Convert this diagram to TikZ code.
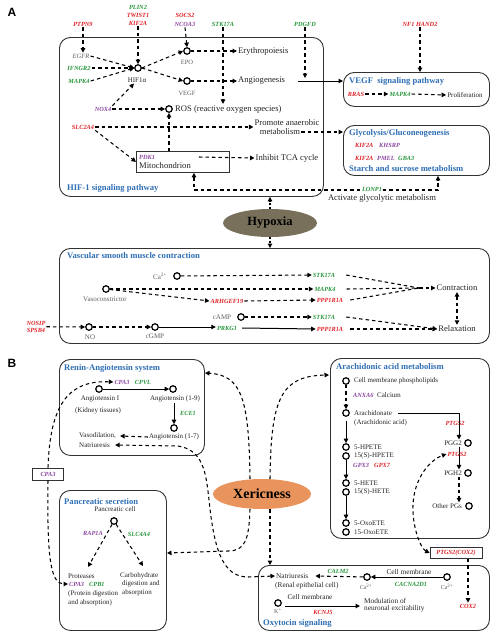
\documentclass[tikz,border=0pt]{standalone}
\usepackage{fontspec}
\setmainfont{Liberation Serif}
\setsansfont{Liberation Sans}
\usetikzlibrary{arrows.meta,shapes.geometric,calc}
\definecolor{tblue}{RGB}{46,110,180}
\definecolor{gred}{RGB}{222,35,40}
\definecolor{ggreen}{RGB}{40,150,60}
\definecolor{gpurple}{RGB}{140,70,160}
\definecolor{graytxt}{RGB}{95,95,95}
\definecolor{txtc}{RGB}{35,35,35}
\definecolor{boxc}{RGB}{50,50,50}
\definecolor{hypc}{RGB}{120,112,90}
\definecolor{xerc}{RGB}{233,148,92}
\newcommand\myfs[1]{\fontsize{#1}{#1}\selectfont}
\begin{document}
\begin{tikzpicture}[x=1pt,y=-1pt,
  every node/.style={inner sep=1pt, text=txtc},
  mtxt/.style={font=\myfs{8.6}},
  stxt/.style={font=\myfs{7}},
  otxt/.style={font=\myfs{7.3}},
  gtxt/.style={font=\myfs{6.3}\bfseries\itshape},
  rd/.style={gtxt,text=gred}, gn/.style={gtxt,text=ggreen}, pu/.style={gtxt,text=gpurple},
  ttl/.style={font=\myfs{8.6}\bfseries, text=tblue, anchor=west},
  circ/.style={circle, draw=black, line width=1.2pt, minimum size=6.5pt, inner sep=0pt},
  rbox/.style={draw=boxc, line width=0.9pt, rounded corners=11pt, anchor=north west, inner sep=0pt},
  sbox/.style={draw=boxc, line width=0.8pt, inner sep=0pt},
  dl/.style={line width=1.05pt, dash pattern=on 3.5pt off 3pt},
  da/.style={dl, -{Triangle[length=4.5pt,width=4.5pt]}},
  dd/.style={dl, {Triangle[length=4.5pt,width=4.5pt]}-{Triangle[length=4.5pt,width=4.5pt]}},
  sa/.style={line width=1pt, -{Triangle[length=4.5pt,width=4.5pt]}},
  dt/.style={line width=1.3pt, dash pattern=on 2pt off 1.5pt, -{Triangle[length=4.5pt,width=4.5pt]}},
]
\useasboundingbox (0,0) rectangle (500,643);

% ================= Panel A =================
\node[font=\sffamily\bfseries\myfs{12}, text=black] (labA) at (12,12) {A};
\node[rbox, minimum width=264pt, minimum height=159pt] (hifbox) at (59,37) {};
\node[rbox, minimum width=146pt, minimum height=34pt] (vegfbox) at (343,72) {};
\node[rbox, minimum width=146pt, minimum height=50pt] (glycbox) at (343,125) {};
\node[rbox, minimum width=430pt, minimum height=95pt] (vascbox) at (59,248) {};

\node[rd] (ptpn9) at (83,24) {PTPN9};
\node[gn] (plin2) at (138,7) {PLIN2};
\node[rd] (twist1) at (138,15) {TWIST1};
\node[rd] (kif2a) at (138,23) {KIF2A};
\node[rd] (socs2) at (185,15) {SOCS2};
\node[pu] (ncoa3) at (185,24) {NCOA3};
\node[gn] (stk17a) at (223,24) {STK17A};
\node[gn] (pdgfd) at (305,24) {PDGFD};
\node[rd] (nf1) at (420,24) {NF1 HAND2};

\node[font=\myfs{6.5}\itshape, text=graytxt] (egfr) at (81,56) {EGFR};
\node[gn] (ifngr2) at (79,68) {IFNGR2};
\node[gn] (mapk4a) at (79,81) {MAPK4};
\node[circ] (hif) at (138,68) {};
\node[stxt] (hiflbl) at (137,80) {HIF1α};
\node[circ] (epo) at (187,51) {};
\node[font=\myfs{6.5}, text=graytxt] (epolbl) at (187,62) {EPO};
\node[circ] (vegf) at (187,81) {};
\node[font=\myfs{6.5}, text=graytxt] (vegflbl) at (187,93) {VEGF};
\node[mtxt, anchor=west] (eryth) at (237,51) {Erythropoiesis};
\node[mtxt, anchor=west] (angio) at (237,81) {Angiogenesis};
\node[pu] (nox4) at (103,109) {NOX4};
\node[circ] (ros) at (169,109) {};
\node[mtxt, anchor=west] (roslbl) at (174,109) {ROS (reactive oxygen species)};
\node[rd] (slc2a4) at (83,127) {SLC2A4};
\node[mtxt] (promA) at (287,123) {Promote anaerobic};
\node[mtxt] (promB) at (280,132) {metabolism};
\node[sbox, anchor=north west, minimum width=93pt, minimum height=21pt] (mito) at (136,151) {};
\node[pu, anchor=west] (pdk1) at (138,157) {PDK1};
\node[mtxt, anchor=west] (mitolbl) at (138,166) {Mitochondrion};
\coordinate (mitoout) at (199,157);
\node[mtxt] (tca) at (287,158) {Inhibit TCA cycle};
\node[ttl] (hifttl) at (66,188) {HIF-1 signaling pathway};

\draw[da] (ptpn9.south) -- (ptpn9.south |- egfr.north);
\draw[da] (kif2a.south) -- (hif.north);
\draw[da] (ncoa3.south) -- (epo.north);
\draw[da] (egfr.east) -- (hif.west);
\draw[da] (ifngr2.east) -- (hif.west);
\draw[da] (mapk4a.east) -- (hif.west);
\draw[da] (hif.east) -- (epo.west);
\draw[da] (hif.east) -- (vegf.west);
\draw[da] (epo.east) -- (eryth.west);
\draw[da] (vegf.east) -- (angio.west);
\draw[da] (stk17a.south) -- (stk17a.south |- roslbl.north);
\draw[da] (nox4.east) -- (ros.west);
\draw[da] (nox4.north east) -- ([xshift=-3pt]hiflbl.south);
\draw[da] (slc2a4.east) -- (slc2a4.east -| promA.west);
\draw[da] (slc2a4.south east) -- (mito.west);
\draw[da] (mito.north -| ros) -- (ros.south);
\draw[da] (mitoout) -- (tca.west);
\draw[da] (promB.east) -- (promB.east -| glycbox.west);

\coordinate (lp1) at (194,190);
\coordinate (lp2) at (438,190);
\draw[dd] (mito.south -| lp1) -- (lp1) -- (lp2) -- (lp2 |- glycbox.south);
\node[gn, fill=white, inner sep=0.5pt] (lonp1) at (372,189) {LONP1};
\node[mtxt] (actg) at (382,198) {Activate glycolytic metabolism};

\node[ellipse, fill=hypc, minimum width=94pt, minimum height=28pt, inner sep=0pt, font=\myfs{12.5}\bfseries, text=black] (hyp) at (270,223) {Hypoxia};
\draw[dt] (hyp.north) -- (hyp.north |- hifbox.south);
\draw[dt] (hyp.south) -- (hyp.south |- vascbox.north);

% VEGF box
\node[ttl] (vegfttl) at (348,81) {VEGF\ \ signaling pathway};
\node[rd] (rras) at (356,94) {RRAS};
\node[gn] (mapk4v) at (400,94) {MAPK4};
\node[stxt] (prolif) at (465,95) {Proliferation};
\draw[da] (rras.east) -- (mapk4v.west);
\draw[da] (mapk4v.east) -- (prolif.west);
\draw[sa] ([xshift=12pt]angio.east) -- (angio.east -| vegfbox.west);
\coordinate (pdtip) at (305,78);
\draw[da] (pdgfd.south) -- (pdtip);
\draw[da] (nf1.south) -- (nf1.south |- vegfbox.north);

% Glycolysis box
\node[ttl] (glycttl) at (348,133) {Glycolysis/Gluconeogenesis};
\node[rd, anchor=west] (kif2ab) at (354,145) {KIF2A};
\node[pu, anchor=west] (khsrp) at (378,145) {KHSRP};
\node[rd, anchor=west] (kif2ac) at (354,158) {KIF2A};
\node[pu, anchor=west] (pmel) at (376,158) {PMEL};
\node[gn, anchor=west] (gba3) at (397,158) {GBA3};
\node[ttl] (starch) at (348,169) {Starch and sucrose metabolism};

% Vascular smooth muscle box
\node[ttl] (vascttl) at (66,256) {Vascular smooth muscle contraction};
\node[stxt, text=graytxt] (calbl) at (160,276) {Ca\textsuperscript{2+}};
\node[circ] (ca1) at (177,276) {};
\node[circ] (vaso) at (106,289) {};
\node[stxt, text=graytxt] (vasolbl) at (105,299) {Vasoconstrictor};
\node[gn] (stka) at (324,275) {STK17A};
\node[gn] (mapkb) at (325,289) {MAPK4};
\node[rd] (pppa) at (330,300) {PPP1R1A};
\node[rd] (arh) at (227,301) {ARHGEF19};
\node[mtxt] (contr) at (457,288) {Contraction};
\node[mtxt] (relax) at (457,329) {Relaxation};
\coordinate (cv) at (419,288);
\draw[da] (ca1) -- (stka.west);
\draw[da] (vaso) -- (mapkb.west);
\draw[da] (vaso) -- (arh.west);
\draw[da] (arh.east) -- (pppa.west);
\draw[dl] ([xshift=10pt]stka.east) -- (cv);
\draw[dl] ([xshift=10pt]mapkb.east) -- (cv);
\draw[dl] ([xshift=6pt]pppa.east) -- (cv);
\draw[da] (cv) -- (contr.west);
\draw[dd] (contr.south) -- (relax.north);
\node[stxt, text=graytxt] (camplbl) at (222,317) {cAMP};
\node[circ] (camp) at (241,317) {};
\node[gn] (stkb) at (324,317) {STK17A};
\node[rd] (nosip) at (36,323) {NOSIP};
\node[rd] (spsb4) at (36,330.5) {SPSB4};
\node[circ] (no) at (89,327) {};
\node[stxt, text=graytxt] (nolbl) at (90,337) {NO};
\node[circ] (cgmp) at (155,327) {};
\node[stxt, text=graytxt] (cgmplbl) at (155,336) {cGMP};
\node[gn] (prkg1) at (227,328) {PRKG1};
\node[rd] (pppb) at (330,329) {PPP1R1A};
\draw[da] ($(nosip.east)!0.5!(spsb4.east)$) -- (no);
\draw[da] (no) -- (cgmp);
\draw[sa] (cgmp.east) -- (cgmp.east -| prkg1.west);
\draw[sa] ([xshift=4pt]prkg1.east) -- (pppb.west);
\draw[da] (camp) -- (stkb.west);
\draw[da] ([xshift=10pt]stkb.east) -- (relax.west);
\draw[da] ([xshift=6pt]pppb.east) -- (relax.west);

% ================= Panel B =================
\node[font=\sffamily\bfseries\myfs{12}, text=black] (labB) at (12,363) {B};
\node[rbox, minimum width=145pt, minimum height=96pt] (rasbox) at (59,359) {};
\node[rbox, minimum width=107pt, minimum height=140pt] (panbox) at (59,490) {};
\node[rbox, minimum width=159pt, minimum height=180pt] (arabox) at (330,358) {};
\node[rbox, minimum width=231pt, minimum height=65pt] (oxbox) at (258,565) {};

% Renin-Angiotensin
\node[ttl] (rasttl) at (63,368) {Renin-Angiotensin system};
\node[circ] (ang1) at (99,389) {};
\node[stxt] (ang1lbl) at (100,399) {Angiotensin I};
\node[stxt] (kidney) at (98,411) {(Kidney tissues)};
\node[pu] (cpa3a) at (122,382) {CPA3};
\node[gn] (cpvl) at (143,382) {CPVL};
\node[circ] (ang19) at (173,389) {};
\node[stxt] (ang19lbl) at (175,399) {Angiotensin (1-9)};
\node[gn] (ece1) at (188,413) {ECE1};
\node[circ] (ang17) at (174,428) {};
\node[stxt] (ang17lbl) at (174,437) {Angiotensin (1-7)};
\node[stxt, anchor=west] (vasod) at (78,436) {Vasodilation,};
\node[stxt, anchor=west] (natr1) at (78,445) {Natriuresis};
\draw[sa] (ang1) -- (ang19);
\draw[sa] (ang19lbl.south -| ang17) -- (ang17.north);
\draw[da] (ang17lbl.west) -- ([xshift=3pt]vasod.east);

\node[sbox, pu, minimum width=31pt, minimum height=12pt] (cpa3box) at (48,474) {CPA3};
\draw[da] (cpa3box.north) .. controls (50,405) and (68,380) .. (cpa3a.west);

% Pancreatic secretion
\node[ttl] (panttl) at (63,502) {Pancreatic secretion};
\node[stxt] (pclbl) at (115,509) {Pancreatic cell};
\node[circ] (pc) at (114,521) {};
\node[pu] (rap1a) at (93,533) {RAP1A};
\node[gn] (slc4a4) at (139,534) {SLC4A4};
\node[stxt, anchor=west] (prot) at (67,576) {Proteases};
\node[pu, anchor=west] (cpa3p) at (68,584) {CPA3};
\node[gn, anchor=west] (cpb1) at (88,584) {CPB1};
\node[stxt, anchor=west] (protdig) at (67,594) {(Protein digestion};
\node[stxt, anchor=west] (protabs) at (67,603) {and absorption)};
\node[stxt, anchor=west] (carb1) at (119,576) {Carbohydrate};
\node[stxt, anchor=west] (carb2) at (121,584) {digestion and};
\node[stxt, anchor=west] (carb3) at (121,593) {absorption};
\coordinate (prottip) at (88,567);
\coordinate (carbtip) at (143,566);
\draw[da] (pc) -- (prottip);
\draw[da] (pc) -- (carbtip);
\draw[da] (cpa3box.south) .. controls (47,555) and (50,584) .. (cpa3p.west);

% Xericness
\node[ellipse, fill=xerc, minimum width=98pt, minimum height=30pt, inner sep=0pt, font=\myfs{14}\bfseries, text=black] (xer) at (262,494) {Xericness};
\coordinate (rasin) at (205,373);
\coordinate (arain) at (329,375);
\coordinate (panin) at (167,553);
\draw[da] ([xshift=-12pt]xer.north) .. controls (249,400) and (242,375) .. (rasin);
\draw[da] ([xshift=8pt]xer.north) .. controls (271,400) and (280,376) .. (arain);
\draw[da] ([xshift=-12pt]xer.south) .. controls (249,540) and (245,551) .. (228,551) -- (panin);
\draw[da] ([xshift=8pt]xer.south) -- ([xshift=8pt]xer.south |- oxbox.north);

% Arachidonic acid metabolism
\node[ttl] (arattl) at (335,367) {Arachidonic acid metabolism};
\node[circ] (c1) at (346,381) {};
\node[stxt, anchor=west] (cmp) at (353,381) {Cell membrane phospholipids};
\node[pu, anchor=west] (anxa6) at (352,395) {ANXA6};
\node[stxt, anchor=west] (calc) at (376,395) {Calcium};
\node[circ] (c2) at (346,413) {};
\node[stxt, anchor=west] (arach) at (353,413) {Arachidonate};
\node[stxt, anchor=west] (arach2) at (353,423) {(Arachidonic acid)};
\node[circ] (c3) at (346,447) {};
\node[stxt, anchor=west] (hpete5) at (353,447) {5-HPETE};
\node[circ] (c4) at (346,456) {};
\node[stxt, anchor=west] (hpete15) at (353,456) {15(S)-HPETE};
\node[pu, anchor=west] (gpx3) at (352,465) {GPX3};
\node[rd, anchor=west] (gpx7) at (373,465) {GPX7};
\node[circ] (c5) at (346,483) {};
\node[stxt, anchor=west] (hete5) at (353,483) {5-HETE};
\node[circ] (c6) at (346,492) {};
\node[stxt, anchor=west] (hete15) at (353,492) {15(S)-HETE};
\node[circ] (c7) at (346,523) {};
\node[stxt, anchor=west] (oxo5) at (353,523) {5-OxoETE};
\node[circ] (c8) at (346,532) {};
\node[stxt, anchor=west] (oxo15) at (353,532) {15-OxoETE};
\draw[da] (c1) -- (c2);
\draw[sa, shorten <=4pt] (c2) -- (c3);
\draw[sa] (c4) -- (c5);
\draw[sa] (c6) -- (c7);

\node[rd] (ptgs2a) at (455,423) {PTGS2};
\node[circ] (pgg2) at (468,443) {};
\node[stxt, anchor=east] (pgg2lbl) at (463,443) {PGG2};
\node[circ] (pgh2) at (468,473) {};
\node[stxt, anchor=east] (pgh2lbl) at (463,473) {PGH2};
\node[circ] (opg) at (469,506) {};
\node[stxt, anchor=east] (opglbl) at (463,506) {Other PGs};
\draw[sa] ([xshift=5pt]arach.east) -| ([xshift=-4pt]pgg2lbl.north east);
\draw[sa] ([xshift=-4pt]pgg2lbl.south east) -- ([xshift=-4pt]pgh2lbl.north east);
\draw[da] ([xshift=-4pt]pgh2lbl.south east) -- ([xshift=-4pt]opglbl.north east);
\node[rd] (ptgs2b) at (457,454) {PTGS2};

\node[sbox, rd, minimum width=52pt, minimum height=11pt] (cox2box) at (456,553) {PTGS2(COX2)};
\draw[dd] (cox2box.west) .. controls (420,548) and (412,525) .. (413,505) .. controls (414,478) and (430,460) .. (ptgs2b.west);
\node[rd] (cox2) at (468,606) {COX2};
\draw[da] ([xshift=12pt]cox2box.south) -- (cox2.north);

% Oxytocin signaling
\node[ttl] (oxttl) at (262,623) {Oxytocin signaling};
\node[otxt, anchor=west] (natr2) at (275,576) {Natriuresis};
\node[otxt, anchor=west] (renal) at (274,586) {(Renal epithelial cell)};
\node[gn] (calm2) at (338,571) {CALM2};
\node[circ] (ca2) at (367,577) {};
\node[font=\myfs{6}, text=graytxt] (ca2lbl) at (366,587) {Ca\textsuperscript{2+}};
\node[otxt] (cm1) at (409,572) {Cell membrane};
\node[gn] (cacna) at (411,584) {CACNA2D1};
\node[circ] (ca3) at (447,577) {};
\node[font=\myfs{6}, text=graytxt] (ca3lbl) at (447,587) {Ca\textsuperscript{2+}};
\draw[sa] (ca3) -- (ca2);
\draw[da] (ca2) -- ([xshift=6pt]natr2.east);
\node[circ] (kc) at (278,603) {};
\node[font=\myfs{6}, text=graytxt] (klbl) at (278,611) {K\textsuperscript{+}};
\node[otxt] (cm2) at (310,597) {Cell membrane};
\node[rd] (kcnj5) at (323,612) {KCNJ5};
\node[otxt, anchor=west] (mod1) at (363,601) {Modulation of};
\node[otxt, anchor=west] (mod2) at (363,609) {neuronal excitability};
\coordinate (kout) at (285,606);
\coordinate (modin) at (360,606);
\draw[sa] (kout) -- (modin);

% Natriuresis link
\draw[dd] ([xshift=4pt]natr1.east) -- (178,446) .. controls (203,450) and (206,472) .. (209,500) .. controls (214,548) and (222,577) .. (248,577) -- (natr2.west);
\end{tikzpicture}
\end{document}
